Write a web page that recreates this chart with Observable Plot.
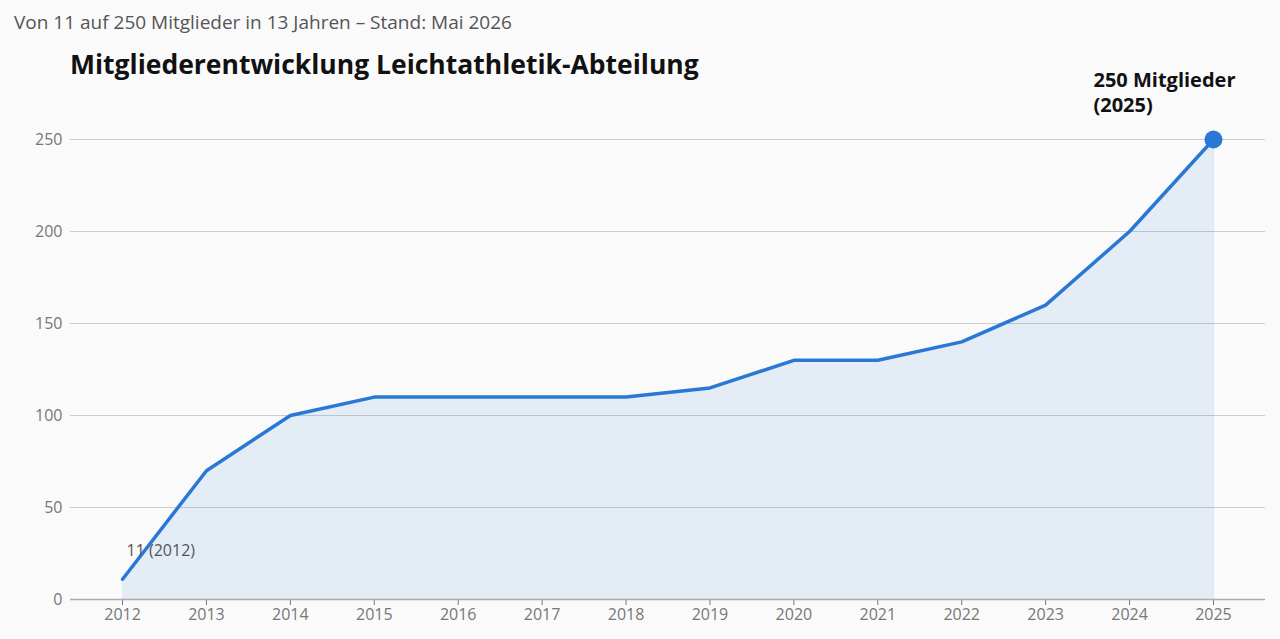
<!DOCTYPE html>
<html><head><meta charset="utf-8">
<script src="https://cdn.jsdelivr.net/npm/d3@7"></script>
<script src="https://cdn.jsdelivr.net/npm/@observablehq/plot@0.6"></script>
<style>
body{margin:0;background:#fafafa;font-family:"Open Sans",sans-serif;width:1280px;height:639px;overflow:hidden;position:relative}
#sub{position:absolute;left:14px;top:9px;font-size:19px;color:#555;z-index:2}
#title{position:absolute;left:70px;top:46px;font-size:26.5px;font-weight:bold;color:#111;z-index:2}
#chart{position:absolute;left:0;top:0}
</style></head><body>
<div id="sub">Von 11 auf 250 Mitglieder in 13 Jahren – Stand: Mai 2026</div>
<div id="title">Mitgliederentwicklung Leichtathletik-Abteilung</div>
<div id="chart"></div>
<script>
const years=[2012,2013,2014,2015,2016,2017,2018,2019,2020,2021,2022,2023,2024,2025];
const members=[11,70,100,110,110,110,110,115,130,130,140,160,200,250];
const yTicks=[0,50,100,150,200,250];
const data=years.map((y,i)=>({year:y,value:members[i]}));
const last=data[data.length-1];
const plot=Plot.plot({
  width:1280,height:639,marginLeft:70,marginRight:15,marginTop:139,marginBottom:40,
  style:{background:"transparent",fontFamily:"Open Sans, sans-serif",fontSize:"16px",color:"#777"},
  x:{domain:[2011.38,2025.62],ticks:years,tickFormat:d=>String(d),tickSize:6,label:null},
  y:{domain:[0,250],ticks:yTicks,label:null,tickSize:0,tickPadding:8},
  marks:[
    Plot.ruleY(yTicks.filter(d=>d>0),{stroke:"#ccc",strokeWidth:1}),
    Plot.areaY(data,{x:"year",y:"value",fill:"#2a78d6",fillOpacity:0.1}),
    Plot.ruleX([last],{x:"year",y1:0,y2:"value",stroke:"#2a78d6",strokeOpacity:0.15}),
    Plot.ruleY([0],{stroke:"#aaa",strokeWidth:1.5}),
    Plot.line(data,{x:"year",y:"value",stroke:"#2a78d6",strokeWidth:3.5}),
    Plot.dot([last],{x:"year",y:"value",r:9,fill:"#2a78d6"}),
    Plot.text([data[0]],{x:"year",y:"value",text:d=>`${d.value} (${d.year})`,textAnchor:"start",dx:4,dy:-28,fill:"#555",fontSize:16}),
    Plot.text([last],{x:"year",y:"value",text:d=>`${d.value} Mitglieder\n(${d.year})`,textAnchor:"start",dx:-120,dy:-48,fill:"#111",fontSize:20,fontWeight:"bold",lineHeight:1.25})
  ]
});
document.getElementById("chart").append(plot);
</script></body></html>
